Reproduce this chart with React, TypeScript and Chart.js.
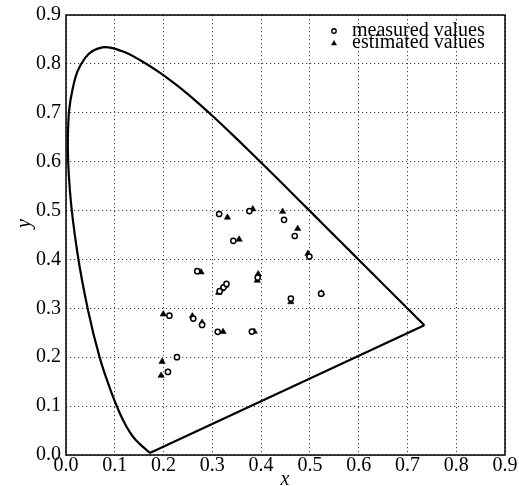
import { useEffect, useRef } from 'react';
import { Chart, registerables } from 'chart.js';

Chart.register(...registerables);

// CIE 1931 spectral locus (380–700 nm, 5 nm steps)
const locusX = [
  0.1741, 0.1740, 0.1738, 0.1736, 0.1733, 0.1730, 0.1726, 0.1721, 0.1714, 0.1703,
  0.1689, 0.1669, 0.1644, 0.1611, 0.1566, 0.1510, 0.1440, 0.1355, 0.1241, 0.1096,
  0.0913, 0.0687, 0.0454, 0.0235, 0.0082, 0.0039, 0.0139, 0.0389, 0.0743, 0.1142,
  0.1547, 0.1929, 0.2296, 0.2658, 0.3016, 0.3373, 0.3731, 0.4087, 0.4441, 0.4788,
  0.5125, 0.5448, 0.5752, 0.6029, 0.6270, 0.6482, 0.6658, 0.6801, 0.6915, 0.7006,
  0.7079, 0.7140, 0.7190, 0.7230, 0.7260, 0.7283, 0.7300, 0.7311, 0.7320, 0.7327,
  0.7334, 0.7340, 0.7344, 0.7346, 0.7347,
];
const locusY = [
  0.0050, 0.0050, 0.0049, 0.0049, 0.0048, 0.0048, 0.0048, 0.0048, 0.0051, 0.0058,
  0.0069, 0.0086, 0.0109, 0.0138, 0.0177, 0.0227, 0.0297, 0.0399, 0.0578, 0.0868,
  0.1327, 0.2007, 0.2950, 0.4127, 0.5384, 0.6548, 0.7502, 0.8120, 0.8338, 0.8262,
  0.8059, 0.7816, 0.7543, 0.7243, 0.6923, 0.6589, 0.6245, 0.5896, 0.5547, 0.5202,
  0.4866, 0.4544, 0.4242, 0.3965, 0.3725, 0.3514, 0.3340, 0.3197, 0.3083, 0.2993,
  0.2920, 0.2859, 0.2809, 0.2770, 0.2740, 0.2717, 0.2700, 0.2689, 0.2680, 0.2673,
  0.2666, 0.2660, 0.2656, 0.2654, 0.2653,
];

const measuredX = [
  0.314, 0.376, 0.447, 0.469, 0.343, 0.499, 0.269, 0.315, 0.323, 0.329,
  0.393, 0.461, 0.523, 0.212, 0.261, 0.279, 0.311, 0.381, 0.2275, 0.209,
];
const measuredY = [
  0.493, 0.499, 0.481, 0.448, 0.438, 0.406, 0.376, 0.335, 0.343, 0.350,
  0.363, 0.320, 0.330, 0.285, 0.279, 0.266, 0.252, 0.2525, 0.200, 0.170,
];

const estimatedX = [
  0.331, 0.383, 0.444, 0.475, 0.355, 0.496, 0.277, 0.313, 0.319, 0.327,
  0.394, 0.392, 0.461, 0.524, 0.1995, 0.259, 0.279, 0.322, 0.386, 0.197, 0.195,
];
const estimatedY = [
  0.486, 0.503, 0.498, 0.463, 0.441, 0.412, 0.374, 0.332, 0.339, 0.347,
  0.370, 0.357, 0.313, 0.331, 0.288, 0.284, 0.271, 0.252, 0.2525, 0.191, 0.1625,
];

const xTickLabels = ['0.0', '0.1', '0.2', '0.3', '0.4', '0.5', '0.6', '0.7', '0.8', '0.9'];
const yTickLabels = ['0.0', '0.1', '0.2', '0.3', '0.4', '0.5', '0.6', '0.7', '0.8', '0.9'];
const legendLabels = ['measured values', 'estimated values'];
const xTitle = 'x';
const yTitle = 'y';

const FAMILY = "'Liberation Serif', 'Times New Roman', Times, serif";
Chart.defaults.font.family = FAMILY;
Chart.defaults.color = '#000';

const decorPlugin = {
  id: 'decor',
  afterDraw(chart: any) {
    const { ctx, chartArea: a } = chart;
    ctx.save();
    // frame
    ctx.strokeStyle = '#000';
    ctx.lineWidth = 1.5;
    ctx.setLineDash([]);
    ctx.strokeRect(a.left, a.top, a.right - a.left, a.bottom - a.top);

    // axis titles
    ctx.fillStyle = '#000';
    ctx.font = `italic 20px ${FAMILY}`;
    ctx.textAlign = 'center';
    ctx.textBaseline = 'alphabetic';
    ctx.fillText(xTitle, 285, 485);
    ctx.save();
    ctx.translate(30, 223.5);
    ctx.rotate(-Math.PI / 2);
    ctx.fillText(yTitle, 0, 0);
    ctx.restore();

    // legend
    ctx.font = `20px ${FAMILY}`;
    ctx.textAlign = 'left';
    const mx = 334;
    ctx.beginPath();
    ctx.arc(mx, 31, 2.2, 0, Math.PI * 2);
    ctx.fillStyle = '#fff';
    ctx.fill();
    ctx.lineWidth = 1.4;
    ctx.strokeStyle = '#000';
    ctx.stroke();
    ctx.beginPath();
    ctx.moveTo(mx, 40);
    ctx.lineTo(mx + 3, 45.2);
    ctx.lineTo(mx - 3, 45.2);
    ctx.closePath();
    ctx.fillStyle = '#000';
    ctx.fill();
    ctx.fillText(legendLabels[0], 352, 35.7);
    ctx.fillText(legendLabels[1], 352, 48.3);
    ctx.restore();
  },
};

export default function App() {
  const canvasRef = useRef<HTMLCanvasElement | null>(null);

  useEffect(() => {
    if (!canvasRef.current) return;
    const locusData = locusX.map((x, i) => ({ x, y: locusY[i] }));
    const n = locusX.length - 1;
    const purpleData = [
      { x: locusX[n], y: locusY[n] },
      { x: locusX[0], y: locusY[0] },
    ];
    const tickFont = { family: FAMILY, size: 20, lineHeight: 1 };

    const chart = new Chart(canvasRef.current, {
      type: 'scatter',
      data: {
        datasets: [
          {
            label: legendLabels[0],
            data: measuredX.map((x, i) => ({ x, y: measuredY[i] })),
            pointStyle: 'circle',
            pointRadius: 2.6,
            pointBorderWidth: 1.5,
            pointBackgroundColor: '#fff',
            pointBorderColor: '#000',
          },
          {
            label: legendLabels[1],
            data: estimatedX.map((x, i) => ({ x, y: estimatedY[i] })),
            pointStyle: 'triangle',
            pointRadius: 3.6,
            pointBorderWidth: 0.6,
            pointBackgroundColor: '#000',
            pointBorderColor: '#000',
          },
          {
            label: 'locus',
            data: locusData,
            showLine: true,
            borderColor: '#000',
            borderWidth: 2.2,
            pointRadius: 0,
            tension: 0.4,
            fill: false,
          } as any,
          {
            label: 'purple line',
            data: purpleData,
            showLine: true,
            borderColor: '#000',
            borderWidth: 2.2,
            pointRadius: 0,
            tension: 0,
            fill: false,
          } as any,
        ],
      },
      options: {
        animation: false,
        responsive: false,
        devicePixelRatio: 1,
        font: { family: FAMILY },
        layout: { padding: { left: 0, right: 14, top: 12, bottom: 0 } },
        plugins: {
          legend: { display: false },
          tooltip: { enabled: false },
        },
        scales: {
          x: {
            type: 'linear',
            min: 0,
            max: 0.9,
            afterFit: (s: any) => {
              s.height = 31;
            },
            ticks: {
              stepSize: 0.1,
              padding: 1,
              color: '#000',
              font: tickFont,
              maxRotation: 0,
              callback: (_v: any, i: number) => xTickLabels[i],
            },
            grid: { color: 'rgba(0,0,0,0.75)', lineWidth: 1, drawTicks: false },
            border: { display: false, dash: [1.2, 2.8] },
          },
          y: {
            type: 'linear',
            min: 0,
            max: 0.9,
            afterFit: (s: any) => {
              s.width = 66;
            },
            ticks: {
              stepSize: 0.1,
              padding: 5,
              color: '#000',
              font: tickFont,
              callback: (_v: any, i: number) => yTickLabels[i],
            },
            grid: { color: 'rgba(0,0,0,0.75)', lineWidth: 1, drawTicks: false },
            border: { display: false, dash: [1.2, 2.8] },
          },
        },
      } as any,
      plugins: [decorPlugin],
    });
    return () => chart.destroy();
  }, []);

  return (
    <div style={{ position: 'absolute', left: 0, top: 0, width: 519, height: 486, background: '#fff' }}>
      <canvas ref={canvasRef} width={519} height={486} style={{ width: 519, height: 486, display: 'block' }} />
    </div>
  );
}
